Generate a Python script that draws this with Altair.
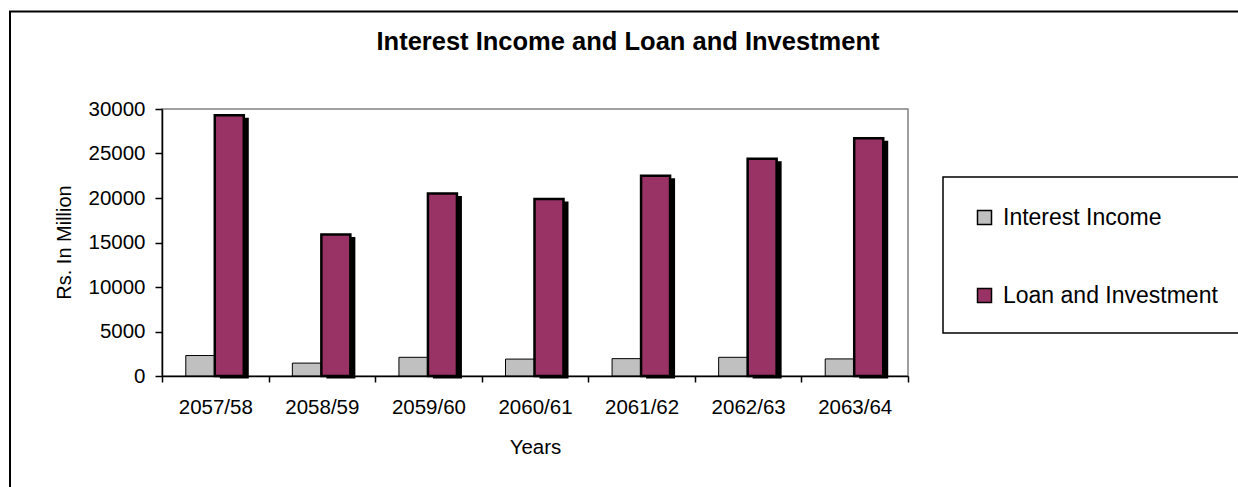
import altair as alt
import pandas as pd

years = ["2057/58", "2058/59", "2059/60", "2060/61", "2061/62", "2062/63", "2063/64"]
interest_income = [2300, 1450, 2100, 1900, 1950, 2100, 1920]
loan_investment = [29300, 15900, 20500, 19900, 22500, 24400, 26700]
series_names = ["Interest Income", "Loan and Investment"]
series_colors = ["#C0C0C0", "#993366"]
y_ticks = [0, 5000, 10000, 15000, 20000, 25000, 30000]
chart_title = "Interest Income and Loan and Investment"

rows = []
for i, yr in enumerate(years):
    rows.append({"Year": yr, "Series": series_names[0], "Value": interest_income[i]})
    rows.append({"Year": yr, "Series": series_names[1], "Value": loan_investment[i]})
df = pd.DataFrame(rows)

FONT = "Liberation Sans"

x_enc = alt.X(
    "Year:N",
    sort=years,
    scale=alt.Scale(paddingInner=0, paddingOuter=0),
    axis=alt.Axis(
        title="Years", labelAngle=0, tickBand="extent", tickSize=6,
        labelFontSize=20.5, labelPadding=25, labelBaseline="middle",
        titleFontSize=20.5, titleX=373, titleY=71, titleBaseline="middle",
        titleFontWeight="normal", zindex=2,
    ),
)
y_enc = alt.Y(
    "Value:Q",
    scale=alt.Scale(domain=[0, 30000], nice=False),
    axis=alt.Axis(
        values=y_ticks, format="d", title="Rs. In Million", grid=False, tickSize=7,
        labelFontSize=20.5, labelPadding=10,
        titleFontSize=20, titleX=-98, titleY=133, titleAngle=270,
        titleAlign="center", titleBaseline="middle", titleFontWeight="normal",
        zindex=2,
    ),
)
color_enc = alt.Color(
    "Series:N",
    scale=alt.Scale(domain=series_names, range=series_colors),
    legend=alt.Legend(
        title=None, orient="none", legendX=811, legendY=97, padding=0,
        symbolType="square", symbolSize=196, symbolStrokeColor="black",
        symbolStrokeWidth=1.5, labelFont=FONT, labelFontSize=23,
        labelOffset=7, rowPadding=54, labelColor="black", labelLimit=400,
    ),
)

one = alt.Data(values=[{}])

outer_box = alt.Chart(one).mark_rect(fill=None, stroke="black", strokeWidth=2).encode(
    x=alt.value(-152), x2=alt.value(1090), y=alt.value(-97.5), y2=alt.value(395)
)
legend_box = alt.Chart(one).mark_rect(fill=None, stroke="black", strokeWidth=1.5).encode(
    x=alt.value(781), x2=alt.value(1090), y=alt.value(68), y2=alt.value(224)
)
title_text = alt.Chart(one).mark_text(
    text=chart_title, font=FONT, fontSize=25.5, fontWeight="bold",
    align="center", baseline="middle", color="black",
).encode(x=alt.value(466), y=alt.value(-67.5))

base = alt.Chart(df)
shadow = base.transform_filter(alt.datum.Series == series_names[1]).mark_bar(
    color="black", width=29, xOffset=19, yOffset=2.5, y2Offset=0
).encode(x=x_enc, y=y_enc)
interest = base.transform_filter(alt.datum.Series == series_names[0]).mark_bar(
    width=29, xOffset=-15, stroke="black", strokeWidth=1
).encode(x=x_enc, y=y_enc, color=color_enc)
loan = base.transform_filter(alt.datum.Series == series_names[1]).mark_bar(
    width=29, xOffset=14, stroke="black", strokeWidth=2.5
).encode(x=x_enc, y=y_enc, color=color_enc)

chart = alt.layer(outer_box, legend_box, title_text, shadow, interest, loan).properties(
    width=746, height=267,
    autosize=alt.AutoSizeParams(type="none"),
    padding={"left": 162, "top": 109, "right": 330, "bottom": 111},
    background="white",
).configure_view(
    stroke="#808080", strokeWidth=1.5
).configure_axis(
    domainColor="black", tickColor="black", labelColor="black", titleColor="black",
    labelFont=FONT, titleFont=FONT, domainWidth=1.5, tickWidth=1.5,
)

chart.save("out.html", embed_options={"renderer": "svg", "actions": False})
